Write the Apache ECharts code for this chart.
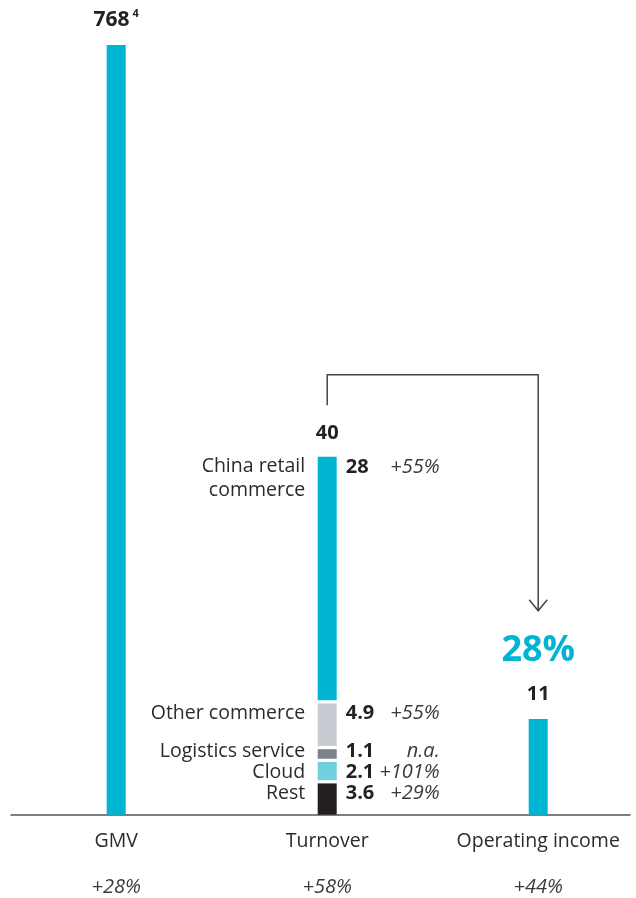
<!DOCTYPE html>
<html><head><meta charset="utf-8">
<script src="https://cdn.jsdelivr.net/npm/echarts@6/dist/echarts.min.js"></script>
<style>html,body{margin:0;padding:0;background:#fff}#c{width:636px;height:898px}</style>
</head><body><div id="c"></div>
<script>
// ---- data ----
const categories = ['GMV', 'Turnover', 'Operating income'];
const categoryGrowth = ['+28%', '+58%', '+44%'];
const gmvValue = 768;
const gmvFootnote = '4';
const turnoverTotal = 40;
const turnoverParts = ['Rest', 'Cloud', 'Logistics service', 'Other commerce', 'China retail\ncommerce'];
const turnoverValues = [3.6, 2.1, 1.1, 4.9, 28];
const turnoverGrowth = ['+29%', '+101%', 'n.a.', '+55%', '+55%'];
const operatingIncome = 11;
const operatingMargin = '28%';

// ---- style ----
const turnoverColors = ['#231f20', '#72cfe0', '#7b8389', '#c6cbd2', '#00b5d1'];
const CYAN = '#00b5d1';
const FONT = '"Open Sans", sans-serif';
const GAP = 3.2;
const BW = 19;

// stacked table for the custom series
const stackRows = [];
let acc = 0;
turnoverValues.forEach((v, i) => { stackRows.push([1, acc, acc + v, i]); acc += v; });
const stackSum = acc;

function renderTurnover(params, api) {
  const i = params.dataIndex;
  const x = api.value(0);
  const p0 = api.coord([x, api.value(1)]);
  const p1 = api.coord([x, api.value(2)]);
  const cx = p0[0];
  const yb = p0[1] - i * GAP;
  const yt = p1[1] - i * GAP;
  const h = yb - yt;
  const rowC = h < 16 ? yb - 7.2 : yt + 10;
  const children = [
    { type: 'rect', shape: { x: cx - BW / 2, y: yt, width: BW, height: h }, style: { fill: turnoverColors[i] } },
    { type: 'text', style: { text: turnoverParts[i], x: cx - BW / 2 - 12.5, y: rowC - 11.75, align: 'right', verticalAlign: 'top', lineHeight: 23.5, font: '19.5px ' + FONT, fill: '#2b2b2b' } },
    { type: 'text', style: { text: String(turnoverValues[i]), x: cx + BW / 2 + 9, y: rowC, align: 'left', verticalAlign: 'middle', font: 'bold 20px ' + FONT, fill: '#222' } },
    { type: 'text', style: { text: turnoverGrowth[i], x: cx + BW / 2 + 103, y: rowC, align: 'right', verticalAlign: 'middle', font: 'italic 20px ' + FONT, fill: '#3a3a3a' } }
  ];
  if (i === turnoverValues.length - 1) {
    children.push({ type: 'text', style: { text: String(turnoverTotal), x: cx, y: yt - 23.7, align: 'center', verticalAlign: 'middle', font: 'bold 20px ' + FONT, fill: '#222' } });
  }
  return { type: 'group', children };
}

const chart = echarts.init(document.getElementById('c'), null, { renderer: 'canvas' });
const option = {
  animation: false,
  backgroundColor: '#fff',
  grid: [
    { left: 10.7, width: 633, top: 45, bottom: 83.3, outerBoundsMode: 'none', containLabel: false },
    { left: 11, right: 6, top: 45, bottom: 83.3, outerBoundsMode: 'none', containLabel: false }
  ],
  xAxis: [
    {
      gridIndex: 0, type: 'category', data: categories,
      axisLine: { show: false }, axisTick: { show: false }, splitLine: { show: false },
      axisLabel: {
        interval: 0, margin: 15,
        formatter: (v, idx) => '{n|' + v + '}\n{g|' + categoryGrowth[idx] + '}',
        rich: {
          n: { fontFamily: FONT, fontSize: 19.5, lineHeight: 24, color: '#2b2b2b' },
          g: { fontFamily: FONT, fontSize: 20, fontStyle: 'italic', lineHeight: 67, color: '#3a3a3a' }
        }
      }
    },
    {
      gridIndex: 1, type: 'category', data: [],
      axisLine: { show: true, lineStyle: { color: '#555', width: 1.5 } },
      axisTick: { show: false }, axisLabel: { show: false }, splitLine: { show: false }
    }
  ],
  yAxis: [
    { gridIndex: 0, type: 'value', min: 0, max: gmvValue, show: false },
    { gridIndex: 0, type: 'value', min: 0, max: 88.56, show: false },
    { gridIndex: 1, type: 'value', show: false }
  ],
  series: [
    {
      type: 'bar', xAxisIndex: 0, yAxisIndex: 0, barWidth: BW, barGap: '-100%',
      data: [gmvValue, '-', '-'],
      itemStyle: { color: CYAN },
      label: {
        show: true, position: 'top', distance: 12.6,
        formatter: (p) => '{a|' + p.value + '}{s|' + gmvFootnote + '}',
        rich: {
          a: { fontFamily: FONT, fontSize: 21, fontWeight: 'bold', color: '#222', lineHeight: 24 },
          s: { fontFamily: FONT, fontSize: 11, fontWeight: 'bold', color: '#222', verticalAlign: 'top', padding: [0, 0, 0, 3] }
        }
      }
    },
    {
      type: 'bar', xAxisIndex: 0, yAxisIndex: 1, barWidth: BW, barGap: '-100%',
      data: ['-', '-', operatingIncome],
      itemStyle: { color: CYAN },
      label: {
        show: true, position: 'top', distance: 12.6,
        formatter: (p) => '{p|' + operatingMargin + '}\n{v|' + p.value + '}',
        rich: {
          p: { fontFamily: FONT, fontSize: 36, fontWeight: 'bold', color: CYAN, lineHeight: 62 },
          v: { fontFamily: FONT, fontSize: 20, fontWeight: 'bold', color: '#222', lineHeight: 25 }
        }
      }
    },
    {
      type: 'custom', xAxisIndex: 0, yAxisIndex: 1,
      data: stackRows, encode: { x: 0, y: [1, 2] },
      renderItem: renderTurnover
    }
  ]
};
chart.setOption(option);

// connector arrow from the turnover total to the operating income margin
const tTop = chart.convertToPixel({ seriesIndex: 2 }, [1, stackSum]);
const oTop = chart.convertToPixel({ seriesIndex: 1 }, [2, operatingIncome]);
const tY = tTop[1] - (turnoverValues.length - 1) * GAP;
const yStart = tY - 51.7, yBar = tY - 82.2, yTip = oTop[1] - 108.4;
chart.setOption({
  graphic: [
    { type: 'polyline', shape: { points: [[tTop[0], yStart], [tTop[0], yBar], [oTop[0], yBar], [oTop[0], yTip]] },
      style: { stroke: '#444', lineWidth: 1.5, fill: null } },
    { type: 'polyline', shape: { points: [[oTop[0] - 9, yTip - 11], [oTop[0], yTip], [oTop[0] + 9, yTip - 11]] },
      style: { stroke: '#444', lineWidth: 1.5, fill: null } }
  ]
});
</script>
</body></html>
